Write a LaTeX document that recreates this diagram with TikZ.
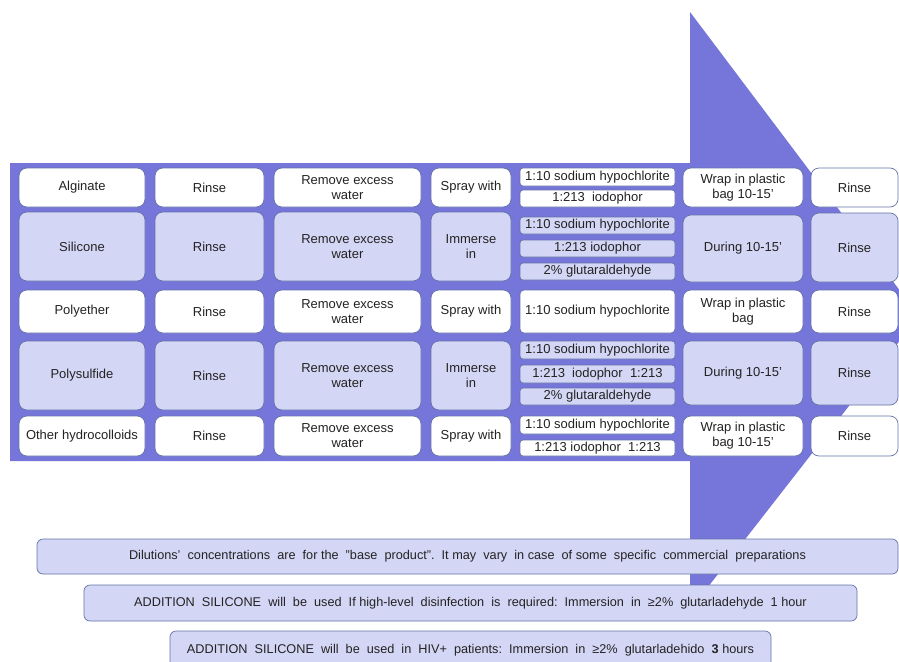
\documentclass[tikz,border=0pt]{standalone}
\usepackage{fontspec}
\setmainfont{Liberation Sans}
\definecolor{arrowc}{RGB}{117,117,218}
\definecolor{lav}{RGB}{212,214,245}
\definecolor{bord}{RGB}{100,115,168}
\definecolor{txt}{RGB}{35,35,35}
\begin{document}
\begin{tikzpicture}[x=1pt,y=-1pt,
  cell/.style={draw=bord, line width=0.7pt, rounded corners=8pt, text=txt,
    font=\fontsize{13}{15}\selectfont, align=center, inner sep=0pt},
  wcell/.style={cell, fill=white},
  lcell/.style={cell, fill=lav},
  wsub/.style={wcell, rounded corners=3pt},
  lsub/.style={lcell, rounded corners=3pt},
  note/.style={lcell, rounded corners=6pt, font=\fontsize{12.7}{14}\selectfont}]
\useasboundingbox (0,0) rectangle (899,661);
\fill[white] (0,0) rectangle (899,661);
% big arrow
\fill[arrowc] (10,163) -- (690,163) -- (690,12) -- (919,316) -- (690,610) -- (690,461) -- (10,461) -- cycle;

% Row 1: Alginate
\node[wcell, minimum width=126, minimum height=39] (a1) at (82,187.5) {Alginate};
\node[wcell, minimum width=109, minimum height=39] (a2) at (209.5,187.5) {Rinse};
\node[wcell, minimum width=147, minimum height=39] (a3) at (347.5,187.5) {Remove excess\\water};
\node[wcell, minimum width=80, minimum height=39] (a4) at (471,187.5) {Spray with};
\node[wsub, minimum width=155, minimum height=18] (a5a) at (597.5,177) {1:10 sodium hypochlorite};
\node[wsub, minimum width=155, minimum height=17] (a5b) at (597.5,198.5) {1:213\ \ iodophor};
\node[wcell, minimum width=120, minimum height=39] (a6) at (743,187.5) {Wrap in plastic\\bag 10-15'};
\node[wcell, minimum width=87, minimum height=39] (a7) at (854.5,187.5) {Rinse};

% Row 2: Silicone
\node[lcell, minimum width=126, minimum height=69] (s1) at (82,246.5) {Silicone};
\node[lcell, minimum width=109, minimum height=69] (s2) at (209.5,246.5) {Rinse};
\node[lcell, minimum width=147, minimum height=69] (s3) at (347.5,246.5) {Remove excess\\water};
\node[lcell, minimum width=80, minimum height=69] (s4) at (471,246.5) {Immerse\\in};
\node[lsub, minimum width=155, minimum height=17] (s5a) at (597.5,225.5) {1:10 sodium hypochlorite};
\node[lsub, minimum width=155, minimum height=17] (s5b) at (597.5,248.5) {1:213 iodophor};
\node[lsub, minimum width=155, minimum height=17] (s5c) at (597.5,271.5) {2\% glutaraldehyde};
\node[lcell, minimum width=120, minimum height=67] (s6) at (743,248.5) {During 10-15'};
\node[lcell, minimum width=87, minimum height=69] (s7) at (854.5,247.5) {Rinse};

% Row 3: Polyether
\node[wcell, minimum width=126, minimum height=43] (p1) at (82,311.5) {Polyether};
\node[wcell, minimum width=109, minimum height=43] (p2) at (209.5,311.5) {Rinse};
\node[wcell, minimum width=147, minimum height=43] (p3) at (347.5,311.5) {Remove excess\\water};
\node[wcell, minimum width=80, minimum height=43] (p4) at (471,311.5) {Spray with};
\node[wcell, rounded corners=4pt, minimum width=155, minimum height=43] (p5) at (597.5,311.5) {1:10 sodium hypochlorite};
\node[wcell, minimum width=120, minimum height=43] (p6) at (743,311.5) {Wrap in plastic\\bag};
\node[wcell, minimum width=87, minimum height=43] (p7) at (854.5,311.5) {Rinse};

% Row 4: Polysulfide
\node[lcell, minimum width=126, minimum height=69] (q1) at (82,375.5) {Polysulfide};
\node[lcell, minimum width=109, minimum height=69] (q2) at (209.5,375.5) {Rinse};
\node[lcell, minimum width=147, minimum height=69] (q3) at (347.5,375.5) {Remove excess\\water};
\node[lcell, minimum width=80, minimum height=69] (q4) at (471,375.5) {Immerse\\in};
\node[lsub, minimum width=155, minimum height=18] (q5a) at (597.5,350) {1:10 sodium hypochlorite};
\node[lsub, minimum width=155, minimum height=18] (q5b) at (597.5,374) {1:213\ \ iodophor\ \ 1:213};
\node[lsub, minimum width=155, minimum height=17] (q5c) at (597.5,396.5) {2\% glutaraldehyde};
\node[lcell, minimum width=120, minimum height=64] (q6) at (743,373) {During 10-15'};
\node[lcell, minimum width=87, minimum height=64] (q7) at (854.5,373) {Rinse};

% Row 5: Other hydrocolloids
\node[wcell, minimum width=126, minimum height=40] (o1) at (82,436) {Other hydrocolloids};
\node[wcell, minimum width=109, minimum height=40] (o2) at (209.5,436) {Rinse};
\node[wcell, minimum width=147, minimum height=40] (o3) at (347.5,436) {Remove excess\\water};
\node[wcell, minimum width=80, minimum height=40] (o4) at (471,436) {Spray with};
\node[wsub, minimum width=155, minimum height=18] (o5a) at (597.5,425) {1:10 sodium hypochlorite};
\node[wsub, minimum width=155, minimum height=16] (o5b) at (597.5,448) {1:213 iodophor\ \ 1:213};
\node[wcell, minimum width=120, minimum height=40] (o6) at (743,436) {Wrap in plastic\\bag 10-15'};
\node[wcell, minimum width=87, minimum height=40] (o7) at (854.5,436) {Rinse};

% Notes
\node[note, minimum width=861, minimum height=35] (n1) at (467.5,556.5)
  {Dilutions'\ \ concentrations\ \ are\ \ for the\ \ \symbol{34}base\ \ product\symbol{34}.\ \ It may\ \ vary\ \ in case\ \ of some\ \ specific\ \ commercial\ \ preparations};
\node[note, minimum width=773, minimum height=36] (n2) at (470.5,603)
  {ADDITION\ \ SILICONE\ \ will\ \ be\ \ used\ \ If high-level\ \ disinfection\ \ is\ \ required:\ \ Immersion\ \ in\ \ ≥2\%\ \ glutarladehyde\ \ 1\ hour};
\node[note, minimum width=601, minimum height=38] (n3) at (470.5,650)
  {ADDITION\ \ SILICONE\ \ will\ \ be\ \ used\ \ in\ \ HIV+\ \ patients:\ \ Immersion\ \ in\ \ ≥2\%\ \ glutarladehido\ \ {\bfseries 3} hours};
\end{tikzpicture}
\end{document}
